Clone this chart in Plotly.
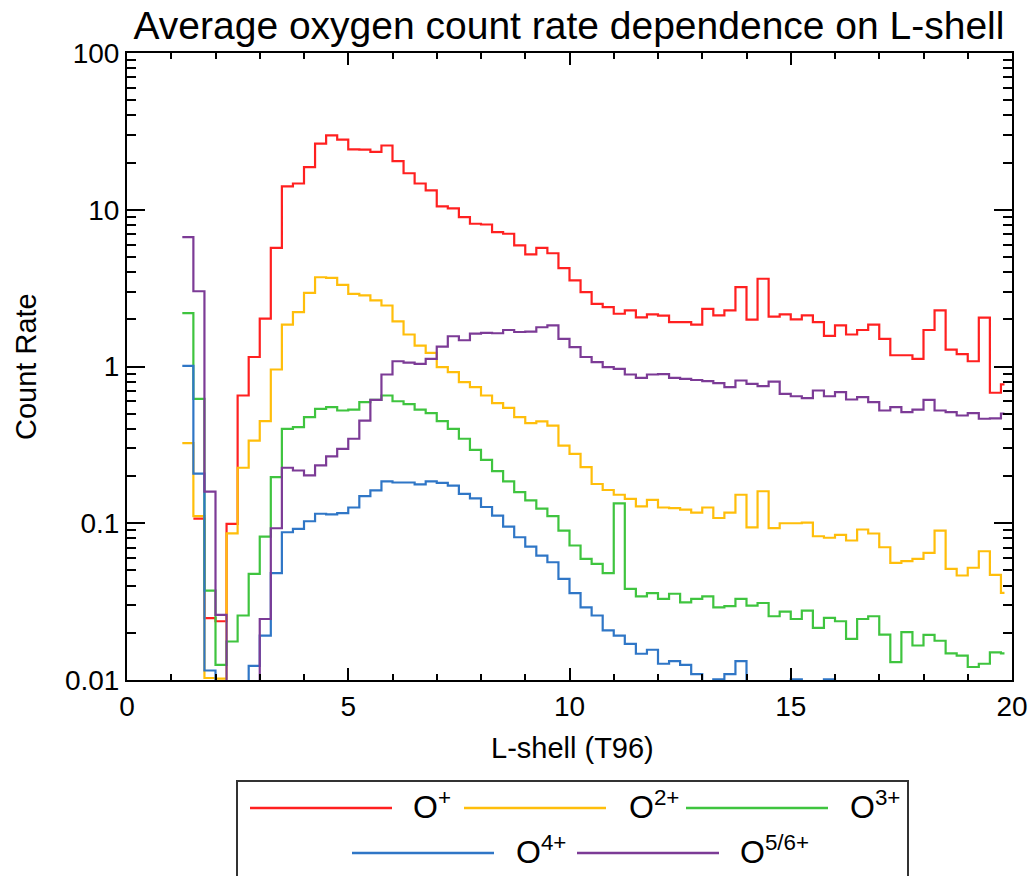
import plotly.graph_objects as go

# ---------------- data ----------------
# left bin edges (L-shell, T96): 1.25 ... 19.75 in steps of 0.25, last bin ends at 19.83
bin_left = [1.25 + 0.25 * k for k in range(75)]
last_edge = 19.83

o1 = [None, 0.107, 0.0248, 0.0237, 0.099, 0.653, 1.15, 2.02, 5.72, 14.1,
      14.7, 18.7, 26.4, 29.8, 28.0, 24.3, 24.2, 23.4, 25.7, 20.4,
      17.1, 14.7, 13.3, 10.5, 10.2, 8.97, 8.14, 8.05, 7.19, 7.03,
      5.92, 5.19, 5.72, 5.28, 4.24, 3.54, 2.98, 2.51, 2.39, 2.17,
      2.28, 2.06, 2.15, 2.11, 1.92, 1.92, 1.85, 2.33, 2.12, 2.28,
      3.21, 1.99, 3.63, 2.08, 2.15, 2.0, 2.12, 1.92, 1.57, 1.83,
      1.60, 1.71, 1.85, 1.50, 1.18, 1.18, 1.12, 1.71, 2.28, 1.28,
      1.20, 1.08, 2.05, 0.68, 0.77]

o2 = [0.324, 0.111, 0.0103, 0.0102, 0.0863, 0.226, 0.337, 0.448, 0.957, 1.85,
      2.22, 2.95, 3.71, 3.68, 3.32, 2.91, 2.84, 2.64, 2.45, 1.94,
      1.60, 1.36, 1.22, 0.99, 0.92, 0.794, 0.738, 0.653, 0.584, 0.545,
      0.475, 0.435, 0.446, 0.42, 0.313, 0.277, 0.228, 0.178, 0.163, 0.152,
      0.143, 0.128, 0.141, 0.126, 0.125, 0.122, 0.117, 0.126, 0.108, 0.117,
      0.152, 0.094, 0.16, 0.093, 0.100, 0.100, 0.101, 0.0826, 0.0808, 0.0842,
      0.0776, 0.0912, 0.086, 0.0703, 0.0559, 0.0573, 0.0593, 0.0647, 0.0898, 0.0512,
      0.0464, 0.052, 0.0663, 0.0469, 0.036]

o3 = [2.19, 0.622, 0.0372, 0.0125, 0.0176, 0.0258, 0.0475, 0.0822, 0.197, 0.40,
      0.41, 0.475, 0.537, 0.55, 0.524, 0.53, 0.592, 0.613, 0.653, 0.60,
      0.575, 0.53, 0.504, 0.448, 0.40, 0.346, 0.294, 0.254, 0.215, 0.185,
      0.158, 0.14, 0.124, 0.111, 0.0898, 0.0721, 0.0593, 0.055, 0.048, 0.134,
      0.0381, 0.0342, 0.0358, 0.0329, 0.0355, 0.0313, 0.0329, 0.0342, 0.0291, 0.0296,
      0.0329, 0.0298, 0.031, 0.0255, 0.0273, 0.0245, 0.0277, 0.0215, 0.0249, 0.0237,
      0.0183, 0.0245, 0.0255, 0.0195, 0.013, 0.0202, 0.0166, 0.0194, 0.0178, 0.0148,
      0.0143, 0.0121, 0.0127, 0.015, 0.0148]

o4 = [1.01, 0.207, 0.0115, 0.005, 0.005, 0.005, 0.0123, 0.0192, 0.048, 0.0876,
      0.092, 0.103, 0.115, 0.114, 0.116, 0.126, 0.149, 0.162, 0.185, 0.182,
      0.182, 0.177, 0.185, 0.181, 0.174, 0.154, 0.144, 0.127, 0.112, 0.0953,
      0.0814, 0.071, 0.0622, 0.0564, 0.0442, 0.0358, 0.0291, 0.0258, 0.0207, 0.0192,
      0.017, 0.0147, 0.0156, 0.0127, 0.0132, 0.0125, 0.0109, 0.005, 0.0101, 0.0109,
      0.0132, 0.005, 0.005, 0.005, 0.005, 0.0101, 0.005, 0.005, 0.0101, 0.005,
      0.005, 0.005, 0.005, 0.005, 0.005, 0.005, 0.005, 0.005, 0.005, 0.005,
      0.005, 0.005, 0.005, 0.005, 0.005]

o56 = [6.69, 3.02, 0.159, 0.026, 0.005, 0.005, 0.005, 0.0245, 0.0929, 0.226,
       0.217, 0.202, 0.234, 0.267, 0.298, 0.346, 0.452, 0.613, 0.889, 1.08,
       1.06, 1.04, 1.12, 1.34, 1.56, 1.47, 1.62, 1.64, 1.63, 1.71,
       1.66, 1.67, 1.78, 1.83, 1.50, 1.33, 1.15, 1.065, 0.99, 0.966,
       0.889, 0.847, 0.889, 0.895, 0.847, 0.835, 0.82, 0.806, 0.783, 0.738,
       0.814, 0.775, 0.749, 0.80, 0.669, 0.646, 0.628, 0.703, 0.646, 0.686,
       0.616, 0.637, 0.592, 0.524, 0.55, 0.511, 0.531, 0.613, 0.524, 0.511,
       0.487, 0.504, 0.464, 0.467, 0.50]

series_names = ["O<sup>+</sup>", "O<sup>2+</sup>", "O<sup>3+</sup>", "O<sup>4+</sup>", "O<sup>5/6+</sup>"]
series_values = [o1, o2, o3, o4, o56]
series_colors = ["#FF2020", "#FFBE0B", "#3FC43F", "#2F76C6", "#7C3B96"]

y_tick_vals = [0.01, 0.1, 1, 10, 100]
y_tick_text = ["0.01", "0.1", "1", "10", "100"]
x_tick_vals = [0, 5, 10, 15, 20]

# ---------------- layout geometry ----------------
W, H = 1035, 876
ML, MR, MT, MB = 127, 23, 53, 196
PX0, PX1 = ML, W - MR
PY0, PY1 = MT, H - MB


def xp(px):
    return (px - PX0) / (PX1 - PX0)


def yp(py):
    return (PY1 - py) / (PY1 - PY0)


FONT = "Liberation Sans, Arial, Helvetica, sans-serif"

fig = go.Figure()
edges = bin_left + [last_edge]
for name, vals, col in zip(series_names, series_values, series_colors):
    fig.add_trace(go.Scatter(
        x=edges, y=list(vals) + [vals[-1]], mode="lines",
        line=dict(color=col, width=2.2, shape="hv"),
        name=name, showlegend=False, hoverinfo="skip"))

minor_y = [m * 10 ** e for e in range(-2, 2) for m in range(2, 10)]

fig.update_layout(
    width=W, height=H,
    margin=dict(l=ML, r=MR, t=MT, b=MB, autoexpand=False),
    paper_bgcolor="white", plot_bgcolor="white",
    font=dict(family=FONT, color="black", size=28),
    title=dict(text="Average oxygen count rate dependence on L-shell",
               x=(xp(569)), xref="paper", xanchor="center",
               y=1 - 25 / H, yref="container", yanchor="middle",
               font=dict(size=39, family=FONT, color="black")),
    showlegend=False,
)

fig.update_xaxes(
    range=[0, 20], tickmode="array", tickvals=x_tick_vals,
    ticks="inside", ticklen=12, tickwidth=2, tickcolor="black",
    showline=True, linecolor="black", linewidth=2, mirror="allticks",
    showgrid=False, zeroline=False,
    tickfont=dict(size=28, family=FONT),
    minor=dict(dtick=1, ticks="inside", ticklen=6, tickwidth=2,
               tickcolor="black", showgrid=False),
)
fig.update_yaxes(
    type="log", range=[-2, 2], tickmode="array",
    tickvals=y_tick_vals, ticktext=y_tick_text,
    ticks="inside", ticklen=18, tickwidth=2, tickcolor="black",
    showline=True, linecolor="black", linewidth=2, mirror="allticks",
    showgrid=False, zeroline=False,
    tickfont=dict(size=28, family=FONT),
    minor=dict(tickmode="array", tickvals=minor_y, ticks="inside", ticklen=9,
               tickwidth=2, tickcolor="black", showgrid=False),
)

annotations = [
    dict(text="Count Rate", x=xp(26), y=yp(367), xref="paper", yref="paper",
         textangle=-90, showarrow=False, xanchor="center", yanchor="middle",
         font=dict(size=29, family=FONT)),
    dict(text="L-shell (T96)", x=xp(572), y=yp(748), xref="paper", yref="paper",
         showarrow=False, xanchor="center", yanchor="middle",
         font=dict(size=29, family=FONT)),
]

shapes = [dict(type="rect", xref="paper", yref="paper",
               x0=xp(237), x1=xp(908), y0=yp(781), y1=yp(900),
               line=dict(color="#333333", width=2), fillcolor="rgba(0,0,0,0)")]

# custom legend: (line x0, line x1, label x, row y)
legend_slots = [(250, 392, 411, 808), (464, 606, 627, 808), (686, 828, 848, 808),
                (352, 494, 514, 853), (577, 719, 738, 853)]
for (lx0, lx1, tx, ry), name, col in zip(legend_slots, series_names, series_colors):
    shapes.append(dict(type="line", xref="paper", yref="paper",
                       x0=xp(lx0), x1=xp(lx1), y0=yp(ry), y1=yp(ry),
                       line=dict(color=col, width=2.5)))
    annotations.append(dict(text=name, x=xp(tx), y=yp(ry - 3), xref="paper", yref="paper",
                            showarrow=False, xanchor="left", yanchor="middle",
                            font=dict(size=32, family=FONT)))

fig.update_layout(annotations=annotations, shapes=shapes)

fig.write_html("out.html", config={"displayModeBar": False})
